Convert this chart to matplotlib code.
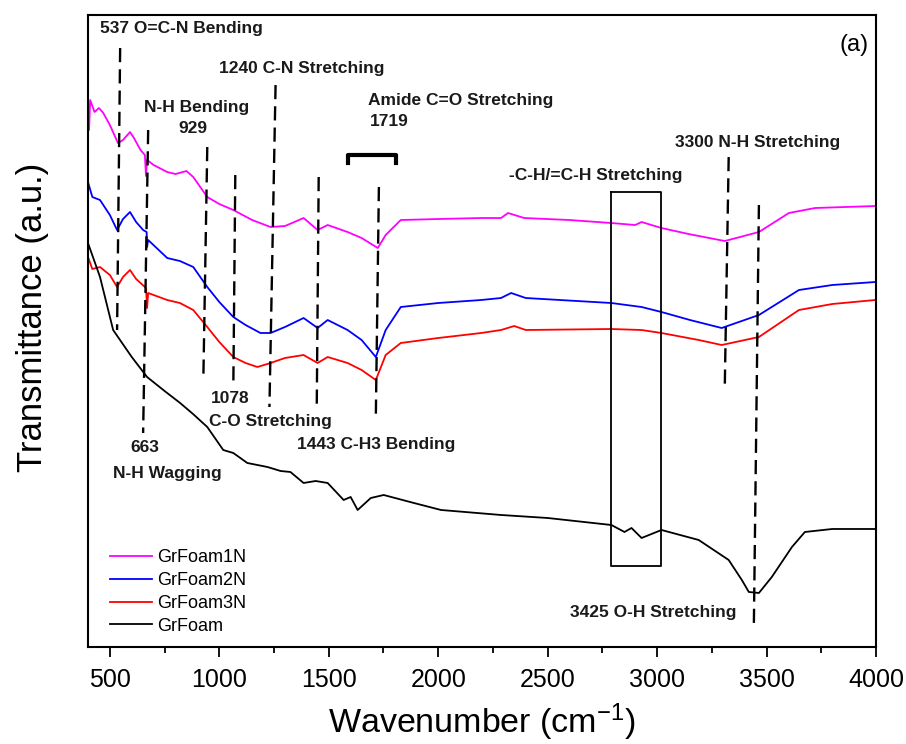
import matplotlib.pyplot as plt
from matplotlib.ticker import MultipleLocator

plt.rcParams['font.family'] = ['Liberation Sans', 'DejaVu Sans']
plt.rcParams['mathtext.fontset'] = 'custom'
plt.rcParams['mathtext.rm'] = 'Liberation Sans'
plt.rcParams['mathtext.it'] = 'Liberation Sans:italic'

# spectra (wavenumber, transmittance in arbitrary units)
wn_1n = [400, 405, 410, 430, 450, 470, 500, 537, 560, 592, 610, 640, 660, 665, 670, 700,
         762, 800, 850, 881, 945, 1000, 1064, 1150, 1234, 1300, 1385, 1449, 1495, 1586,
         1650, 1724, 1760, 1829, 2000, 2196, 2287, 2319, 2393, 2600, 2791, 2900, 2929,
         3020, 3144, 3309, 3465, 3602, 3721, 3996]
t_1n = [550, 517, 547, 535, 539, 534, 522, 504, 507, 515, 509, 497, 492, 471, 487, 482,
        475, 473, 476, 470, 450, 443, 437, 427, 420, 421, 429, 417, 422, 415,
        409, 399, 412, 427, 428, 429, 429, 434, 429, 427, 424, 422, 425,
        419, 413, 406, 415, 434, 439, 441]

wn_2n = [400, 420, 455, 500, 533, 560, 592, 620, 652, 668, 670, 675, 762, 820, 881, 945,
         1000, 1064, 1120, 1188, 1234, 1300, 1385, 1449, 1495, 1586, 1650, 1715, 1760,
         1829, 2000, 2196, 2287, 2333, 2400, 2791, 2929, 3020, 3150, 3295, 3465, 3648,
         3800, 3996]
t_2n = [465, 450, 447, 432, 417, 428, 435, 425, 417, 415, 400, 407, 389, 386, 380, 360,
        345, 330, 322, 314, 314, 320, 329, 319, 327, 317, 307, 290, 317,
        340, 344, 347, 349, 354, 349, 344, 340, 335, 327, 319, 332, 357,
        362, 365]

wn_3n = [400, 420, 455, 500, 533, 560, 592, 620, 665, 670, 675, 762, 820, 881, 945, 1000,
         1064, 1120, 1174, 1234, 1300, 1385, 1449, 1495, 1586, 1650, 1715, 1760, 1829,
         2000, 2196, 2287, 2347, 2400, 2791, 2929, 3020, 3190, 3295, 3465, 3648, 3800,
         3996]
t_3n = [390, 378, 380, 372, 360, 370, 377, 368, 359, 339, 354, 347, 344, 337, 320, 305,
        290, 284, 280, 284, 289, 292, 284, 290, 284, 277, 267, 292, 304,
        309, 314, 317, 321, 317, 318, 317, 314, 307, 302, 310, 337, 343,
        347]

wn_gf = [400, 455, 515, 600, 670, 750, 821, 880, 945, 1018, 1064, 1128, 1220, 1280, 1325,
         1385, 1440, 1495, 1568, 1600, 1632, 1692, 1751, 1889, 2013, 2287, 2500, 2791,
         2851, 2883, 2929, 3020, 3190, 3327, 3387, 3419, 3465, 3524, 3616, 3675, 3800,
         3996]
t_gf = [404, 370, 317, 290, 270, 256, 244, 233, 220, 197, 194, 184, 180, 176, 175,
        164, 166, 164, 147, 150, 137, 149, 152, 144, 137, 132, 129, 122,
        115, 119, 109, 117, 107, 87, 67, 55, 54, 70, 100, 115, 118,
        118]

series = [("GrFoam1N", wn_1n, t_1n, "#ff00ff"),
          ("GrFoam2N", wn_2n, t_2n, "#0000ff"),
          ("GrFoam3N", wn_3n, t_3n, "#ff0000"),
          ("GrFoam", wn_gf, t_gf, "#000000")]

# peak marker lines: (x_top, y_top, x_bottom, y_bottom)
peak_lines = [(547, 599, 533, 317), (675, 517, 652, 214), (945, 500, 927, 267),
              (1073, 472, 1064, 260), (1257, 562, 1229, 240), (1454, 470, 1445, 237),
              (1729, 460, 1715, 230), (3327, 490, 3309, 259), (3465, 442, 3442, 22)]

# labels: (text, x, y)
labels = [("537 O=C-N Bending", 455, 619),
          ("1240 C-N Stretching", 1000, 579),
          ("N-H Bending", 656, 540),
          ("929", 815, 519),
          ("Amide C=O Stretching", 1680, 547),
          ("1719", 1690, 526),
          ("-C-H/=C-H Stretching", 2323, 472),
          ("3300 N-H Stretching", 3080, 505),
          ("1078", 963, 249),
          ("C-O Stretching", 954, 225),
          ("663", 594, 199),
          ("N-H Wagging", 515, 173),
          ("1443 C-H3 Bending", 1355, 202),
          ("3425 O-H Stretching", 2600, 34)]

fig, ax = plt.subplots(figsize=(9.06, 7.44), dpi=100)
fig.subplots_adjust(left=0.0971, right=0.9669, bottom=0.1304, top=0.9798)

for name, wn, t, color in series:
    ax.plot(wn, t, color=color, lw=1.3, label=name)

for x0, y0, x1, y1 in peak_lines:
    ax.plot([x0, x1], [y0, y1], color='black', lw=1.7, dashes=(6, 3))

for text, x, y in labels:
    ax.text(x, y, text, fontsize=12.5, fontweight='bold', ha='left', va='center', color='#1a1a1a')

# bracket over amide band
ax.plot([1590, 1590, 1806, 1806], [484, 492, 492, 484], color='black', lw=3)
# box around C-H stretching
ax.plot([2791, 3020, 3020, 2791, 2791], [455, 455, 81, 81, 455], color='black', lw=1.3)

ax.text(0.99, 0.952, "(a)", transform=ax.transAxes, fontsize=17, ha='right', va='center')

ax.set_xlim(400, 4000)
ax.set_ylim(0, 632)
ax.set_yticks([])
ax.xaxis.set_major_locator(MultipleLocator(500))
ax.xaxis.set_minor_locator(MultipleLocator(250))
ax.tick_params(axis='x', which='major', direction='out', length=7, width=1.3, labelsize=18, pad=8)
ax.tick_params(axis='x', which='minor', direction='out', length=4, width=1.3)
for sp in ax.spines.values():
    sp.set_linewidth(1.5)

ax.set_xlabel("Wavenumber (cm$^{-1}$)", fontsize=24.5, labelpad=7)
ax.set_ylabel("Transmittance (a.u.)", fontsize=25)
ax.yaxis.set_label_coords(-0.05, 0.522)

ax.legend(loc='lower left', bbox_to_anchor=(0.019, 0.008), frameon=False, fontsize=13,
          handlelength=2.33, handletextpad=0.28, labelspacing=0.32, borderaxespad=0)

fig.savefig("out.png", dpi=100)
